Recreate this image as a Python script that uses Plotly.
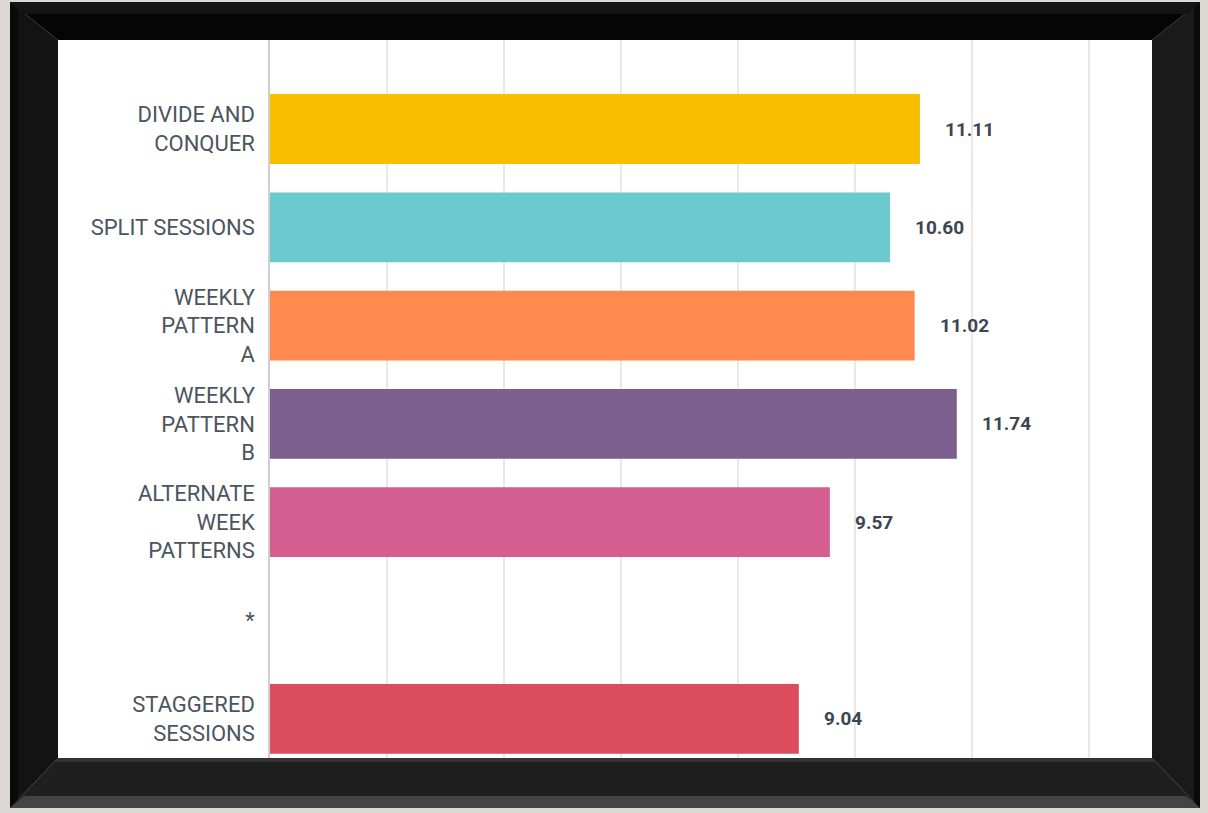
import plotly.graph_objects as go

W, H = 1208, 813

categories = [
    'DIVIDE AND<br>CONQUER',
    'SPLIT SESSIONS',
    'WEEKLY<br>PATTERN<br>A',
    'WEEKLY<br>PATTERN<br>B',
    'ALTERNATE<br>WEEK<br>PATTERNS',
    '*',
    'STAGGERED<br>SESSIONS',
]
values = [11.11, 10.60, 11.02, 11.74, 9.57, None, 9.04]
bar_colors = ['#F9BE00', '#6CC9CD', '#FF8A50', '#7C5E8F', '#D45E8F', '#FFFFFF', '#DB4C5E']


def px(x):
    return x / W


def py(y):
    return 1 - y / H


def poly(points):
    return 'M ' + ' L '.join(f'{px(x):.5f},{py(y):.5f}' for x, y in points) + ' Z'


fig = go.Figure(
    go.Bar(
        x=values,
        y=categories,
        orientation='h',
        marker=dict(color=bar_colors, line=dict(width=0)),
        hoverinfo='skip',
    )
)

for cat, val in zip(categories, values):
    if val is None:
        continue
    fig.add_annotation(
        x=val, y=cat, text=f'{val:.2f}', showarrow=False,
        xanchor='left', xshift=23,
        font=dict(family='Roboto', size=19, color='#3d4650', weight='bold'),
    )

# picture frame (outer edge / inner white canvas, in pixels)
ox0, oy0, ox1, oy1 = 10, 2, 1200, 808
ix0, iy0, ix1, iy1 = 58, 40, 1152, 758
wall = '#dcd9d4'


def flat(pts, col, layer='above'):
    return dict(type='path', xref='paper', yref='paper', path=poly(pts),
                fillcolor=col, line=dict(width=0), layer=layer)


shapes = [
    flat([(ix0, iy0), (ix1, iy0), (ix1, iy1), (ix0, iy1)], '#FFFFFF', 'below'),
    flat([(ox0, oy0), (ox1, oy0), (ix1, iy0), (ix0, iy0)], '#050505'),
    flat([(ox0, oy0), (ix0, iy0), (ix0, iy1), (ox0, oy1)], '#131313'),
    flat([(ox1, oy0), (ox1, oy1), (ix1, iy1), (ix1, iy0)], '#1a1a1a'),
    flat([(ox0, oy1), (ix0, iy1), (ix1, iy1), (ox1, oy1)], '#1f1f1f'),
    # bevel highlights
    flat([(ox0, oy0), (ox1, oy0), (ox1 - 12, oy0 + 12), (ox0 + 12, oy0 + 12)], '#141414'),
    flat([(ox0 + 14, oy1 - 12), (ox1 - 14, oy1 - 12), (ox1, oy1), (ox0, oy1)], '#444444'),
    flat([(ix0, iy1), (ix1, iy1), (ix1 + 4, iy1 + 4), (ix0 - 4, iy1 + 4)], '#333333'),
    flat([(ox0, oy0), (ox0 + 8, oy0 + 8), (ox0 + 8, oy1 - 8), (ox0, oy1)], '#0a0a0a'),
    flat([(ox1, oy0), (ox1 - 6, oy0 + 6), (ox1 - 6, oy1 - 6), (ox1, oy1)], '#0a0a0a'),
]

x_unit = 58.5   # px per value unit
band = 98.3     # px per category
first_center = 129

fig.update_layout(
    width=W,
    height=H,
    margin=dict(l=0, r=0, t=0, b=0, pad=0),
    paper_bgcolor=wall,
    plot_bgcolor='#FFFFFF',
    bargap=0.29,
    showlegend=False,
    shapes=shapes,
    xaxis=dict(
        domain=[270 / W, ix1 / W],
        range=[0, (ix1 - 270) / x_unit],
        dtick=2,
        showgrid=True,
        gridcolor='#e8e8e8',
        gridwidth=1.5,
        zeroline=False,
        showticklabels=False,
        showline=False,
    ),
    yaxis=dict(
        type='category',
        categoryorder='array',
        categoryarray=categories,
        domain=[py(iy1), py(iy0)],
        range=[(iy1 - first_center) / band, (iy0 - first_center) / band],
        showgrid=False,
        showline=True,
        linecolor='#cfcfcf',
        linewidth=1.5,
        ticks='',
        ticklabelstandoff=9,
        automargin=False,
        tickfont=dict(family='Roboto', size=22, color='#4b5560'),
    ),
)

fig.write_html('out.html', config={'displayModeBar': False},
               post_script="document.body.style.margin='0';")
